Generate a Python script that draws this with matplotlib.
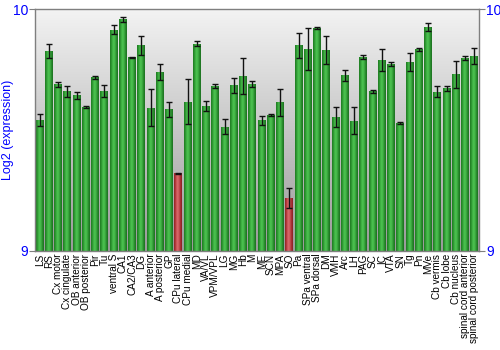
import numpy as np
import matplotlib.pyplot as plt
from matplotlib.colors import LinearSegmentedColormap

plt.rcParams['font.family'] = ['Liberation Sans', 'DejaVu Sans']

regions = ["LS", "RS", "Cx motor", "Cx cingulate", "OB anterior", "OB posterior",
           "Pir", "Tu", "ventral S", "CA1", "CA2/CA3", "DG", "A anterior",
           "A posterior", "GP", "CPu lateral", "CPu medial", "MD", "VA/VL",
           "VPM/VPL", "LG", "MG", "Hb", "M", "ME", "SCN", "MPA", "SO", "Pa",
           "SPa ventral", "SPa dorsal", "DM", "VMH", "Arc", "LH", "PAG", "SC",
           "IC", "VTA", "SN", "Tg", "Pn", "MVe", "Cb vermis", "Cb lobe",
           "Cb nucleus", "spinal cord anterior", "spinal cord posterior"]

expression = [9.541, 9.826, 9.689, 9.660, 9.643, 9.596, 9.718, 9.661, 9.915,
              9.957, 9.800, 9.850, 9.592, 9.740, 9.585, 9.321, 9.616, 9.857,
              9.599, 9.682, 9.514, 9.686, 9.725, 9.690, 9.541, 9.562, 9.614,
              9.219, 9.851, 9.835, 9.920, 9.831, 9.554, 9.727, 9.538, 9.802,
              9.661, 9.789, 9.773, 9.528, 9.782, 9.833, 9.926, 9.658, 9.672,
              9.731, 9.799, 9.806]

sem = [0.025, 0.030, 0.010, 0.022, 0.016, 0.003, 0.006, 0.026, 0.020, 0.011,
       0.003, 0.038, 0.077, 0.032, 0.032, 0.003, 0.093, 0.010, 0.019, 0.010,
       0.030, 0.031, 0.074, 0.014, 0.019, 0.004, 0.055, 0.043, 0.052, 0.087,
       0.004, 0.057, 0.041, 0.023, 0.056, 0.007, 0.006, 0.045, 0.007, 0.005,
       0.038, 0.008, 0.017, 0.023, 0.010, 0.056, 0.008, 0.032]

# regions flagged as low expression are drawn in red
low = ["CPu lateral", "SO"]

ymin, ymax = 9, 10

fig = plt.figure(figsize=(5, 3.5), dpi=100)
ax = fig.add_axes([0.07, 0.283, 0.888, 0.691])

x = np.arange(len(regions))
xl, xr = -0.5, len(regions) - 0.5

# grey vertical gradient behind the bars, light at the top
bg = np.linspace(0, 1, 256).reshape(-1, 1)
bg_cmap = LinearSegmentedColormap.from_list("bg", ["#9a9a9a", "#f3f3f3"])
ax.imshow(bg, cmap=bg_cmap, aspect='auto', origin='lower',
          extent=(xl, xr, ymin, ymax), zorder=0)

green = LinearSegmentedColormap.from_list(
    "g", ["#1f7a22", "#2f9a33", "#4cc150", "#46b84a", "#2a8f2e", "#1d6f20"])
red = LinearSegmentedColormap.from_list(
    "r", ["#8e2226", "#b83a3e", "#d86a6c", "#cc5a5d", "#a93236", "#8a1f23"])
shade = np.linspace(0, 1, 64).reshape(1, -1)

bars = ax.bar(x, np.array(expression) - ymin, bottom=ymin, width=0.86,
              color='none', edgecolor='none', zorder=2)
for name, b in zip(regions, bars):
    cm = red if name in low else green
    x0, y0 = b.get_x(), b.get_y()
    im = ax.imshow(shade, cmap=cm, aspect='auto', origin='lower',
                   extent=(x0, x0 + b.get_width(), y0, y0 + b.get_height()), zorder=2)
    im.set_clip_path(b)

ax.errorbar(x, expression, yerr=sem, fmt='none', ecolor='#111111', elinewidth=1,
            capsize=2, capthick=1, zorder=3)

ax.set_xlim(xl, xr)
ax.set_ylim(ymin, ymax)

ax.set_xticks(x)
ax.set_xticklabels(regions, rotation=90, fontsize=7.2)
ax.tick_params(axis='x', length=0, pad=2)

ax.set_yticks([9, 10])
ax.tick_params(axis='y', colors='#7f7f7f', labelcolor='#0000ff', labelsize=10,
               length=4, right=True, labelright=True, direction='out', pad=1)
ax.set_ylabel("Log2 (expression)", color='#0000ff', fontsize=9)
ax.yaxis.set_label_coords(-0.047, 0.5)

for s in ax.spines.values():
    s.set_color('#7f7f7f')
    s.set_linewidth(1)

fig.savefig("out.png", dpi=100)
